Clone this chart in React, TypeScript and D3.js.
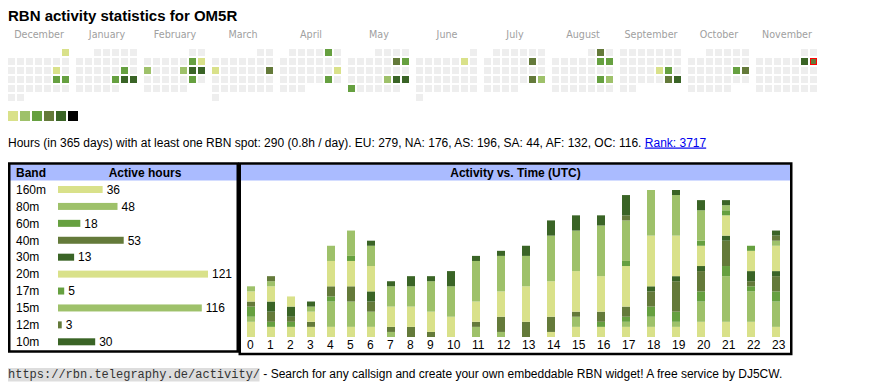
import React from "react";
import * as d3 from "d3";

// ---------- DATA ----------
const title = "RBN activity statistics for OM5R";
const monthNames = ["December","January","February","March","April","May","June","July","August","September","October","November"];
const monthStarts = ["2024-12-01","2025-01-01","2025-02-01","2025-03-01","2025-04-01","2025-05-01","2025-06-01","2025-07-01","2025-08-01","2025-09-01","2025-10-01","2025-11-01"];
const activeDates = [
  "2024-12-01","2024-12-14","2024-12-21","2024-12-22",
  "2025-01-18","2025-01-24","2025-01-25","2025-01-26",
  "2025-02-08","2025-02-09","2025-02-10","2025-02-14","2025-02-15","2025-02-16","2025-02-22",
  "2025-03-10","2025-03-16",
  "2025-04-05","2025-04-20","2025-04-26",
  "2025-05-10","2025-05-11","2025-05-23","2025-05-24","2025-05-25","2025-05-26",
  "2025-06-07",
  "2025-07-12","2025-07-26","2025-07-27",
  "2025-08-02","2025-08-09","2025-08-10","2025-08-23","2025-08-24",
  "2025-09-19","2025-09-20","2025-09-27","2025-09-28",
  "2025-10-18","2025-10-19",
  "2025-11-08","2025-11-09"
];
const activeLevels = [
  1,1,3,3,
  3,3,5,5,
  3,1,2,2,5,5,3,
  1,4,
  3,1,3,
  4,3,2,5,5,3,
  1,
  4,4,2,
  4,3,3,3,2,
  1,3,4,5,
  3,4,
  5,4
];
const todayDate = "2025-11-09";
const levelColors = ["#eeeeee","#d9e18a","#9ec16a","#66a040","#647a3a","#3a6426","#000000"];

const bands = ["160m","80m","60m","40m","30m","20m","17m","15m","12m","10m"];
const bandHours = [36,48,18,53,13,121,5,116,3,30];
const bandColors = ["#d9e18a","#9ec16a","#66a040","#647a3a","#3a6426","#d9e18a","#66a040","#9ec16a","#647a3a","#3a6426"];

const hourLabels = ["0","1","2","3","4","5","6","7","8","9","10","11","12","13","14","15","16","17","18","19","20","21","22","23"];
const h160 = [3,2,2,2,2,2,2,0,0,0,0,0,0,0,1,2,2,2,2,2,3,3,3,2];
const h80  = [1,0,0,0,5,5,3,1,0,0,0,2,1,0,0,2,0,1,2,1,4,9,6,5];
const h60  = [2,1,1,0,1,0,0,0,0,0,0,0,0,0,0,0,1,1,2,2,2,2,1,2];
const h40  = [1,2,1,1,2,3,2,1,2,1,0,1,3,3,3,1,2,2,3,6,4,5,1,3];
const h30  = [0,2,2,0,0,0,2,0,0,0,0,0,0,0,0,0,0,0,1,1,1,1,2,1];
const h20  = [2,3,2,2,5,5,5,4,4,4,4,4,5,7,7,8,7,8,10,8,4,4,4,5];
const h17  = [0,0,0,0,0,1,0,0,0,0,0,0,0,0,0,0,0,1,0,0,1,1,1,0];
const h15  = [1,1,0,1,3,5,4,4,4,6,6,8,7,6,9,8,10,8,9,8,6,1,0,1];
const h12  = [0,1,0,0,0,0,0,0,0,0,0,0,0,0,0,0,0,1,0,0,0,0,0,1];
const h10  = [0,0,0,1,0,0,1,1,2,1,3,1,1,2,3,3,2,4,0,1,2,1,0,1];
const hourlyByBand = [h160,h80,h60,h40,h30,h20,h17,h15,h12,h10];

const statsText = "Hours (in 365 days) with at least one RBN spot: 290 (0.8h / day). EU: 279, NA: 176, AS: 196, SA: 44, AF: 132, OC: 116. ";
const rankText = "Rank: 3717";
const footerUrl = "https://rbn.telegraphy.de/activity/";
const footerText = " - Search for any callsign and create your own embeddable RBN widget! A free service by DJ5CW.";

// ---------- COMPONENT ----------
const SANS = "'Liberation Sans', Arial, sans-serif";

export default function App() {
  const parse = d3.timeParse("%Y-%m-%d");
  const levelByDay = new Map<string, number>();
  activeDates.forEach((d, i) => levelByDay.set(d, activeLevels[i]));
  const fmt = d3.timeFormat("%Y-%m-%d");

  // calendar scales
  const monthX = d3.scaleLinear().domain([0, 1]).range([8, 76]);
  const colX = d3.scaleLinear().domain([0, 1]).range([0, 9]);
  const rowY = d3.scaleLinear().domain([0, 1]).range([49, 58]);
  const cell = 7;

  const cells: any[] = [];
  monthStarts.forEach((ms, mi) => {
    const start = parse(ms)!;
    const end = d3.timeMonth.offset(start, 1);
    const firstCol = (start.getDay() + 6) % 7;
    d3.timeDays(start, end).forEach((day) => {
      const dn = day.getDate();
      const col = (day.getDay() + 6) % 7;
      const row = Math.floor((firstCol + dn - 1) / 7);
      const key = fmt(day);
      cells.push({
        key,
        x: monthX(mi) + colX(col),
        y: rowY(row),
        level: levelByDay.get(key) || 0,
        today: key === todayDate,
      });
    });
  });

  // band table scales
  const bandX = d3.scaleLinear().domain([0, d3.max(bandHours)!]).range([58, 208]);
  const bandY = d3.scalePoint<string>().domain(bands).range([189.5, 341.8]);

  // hour chart scales
  const colWidths = hourLabels.map((l) => (l.length > 1 ? 25 : 20));
  const lefts = colWidths.map((_, i) => 241 + d3.sum(colWidths.slice(0, i)));
  const hourX = d3.scaleOrdinal<string, number>().domain(hourLabels).range(lefts.map((l) => l + 6));
  const yScale = d3.scaleLinear().domain([0, 29]).range([337, 190]);

  const rows = hourLabels.map((h, hi) => {
    const r: any = { hour: h };
    bands.forEach((b, bi) => (r[b] = hourlyByBand[bi][hi]));
    return r;
  });
  const stacked = d3.stack<any>().keys(bands)(rows);

  return (
    <svg width={870} height={390} style={{ position: "absolute", left: 0, top: 0 }} fontFamily={SANS}>
      <rect x={0} y={0} width={870} height={390} fill="#fff" />
      <text x={8} y={20.5} fontSize={15} fontWeight="bold" fill="#000">{title}</text>

      {/* month labels */}
      {monthNames.map((m, i) => (
        <text key={m} x={monthX(i) + 31} y={38.3} fontSize={9.6} fill="#a0a0a0" textAnchor="middle" fontFamily="'DejaVu Sans', Verdana, sans-serif">{m}</text>
      ))}

      {/* calendar cells */}
      {cells.map((c) => (
        <g key={c.key}>
          <rect x={c.x} y={c.y} width={cell} height={cell} fill={levelColors[c.level]} />
          {c.today && <rect x={c.x + 0.5} y={c.y + 0.5} width={cell - 1} height={cell - 1} fill="none" stroke="#ff0000" strokeWidth={1} />}
        </g>
      ))}

      {/* legend */}
      {levelColors.slice(1).map((c, i) => (
        <rect key={c + i} x={8 + i * 12} y={111} width={10} height={10} fill={c} />
      ))}

      {/* stats line */}
      <text x={8} y={146.5} fontSize={12} fill="#000">
        {statsText}
        <tspan fill="#0000ee" style={{ textDecoration: "underline" }}>{rankText}</tspan>
      </text>

      {/* left box: band table */}
      <rect x={10} y={164.5} width={227} height={16} fill="#aabbff" />
      <rect x={9.25} y={163.5} width={228.5} height={188} fill="none" stroke="#000" strokeWidth={2.5} />
      <text x={16} y={177} fontSize={12} fontWeight="bold">Band</text>
      <text x={145} y={177} fontSize={12} fontWeight="bold" textAnchor="middle">Active hours</text>
      {bands.map((b, i) => (
        <g key={b}>
          <text x={16} y={bandY(b)! + 4.3} fontSize={12} fill="#000">{b}</text>
          <rect x={bandX(0)} y={bandY(b)! - 3.5} width={bandX(bandHours[i]) - bandX(0)} height={7} fill={bandColors[i]} />
          <text x={bandX(bandHours[i]) + 4} y={bandY(b)! + 4.3} fontSize={12} fill="#000">{bandHours[i]}</text>
        </g>
      ))}

      {/* right box: activity vs time */}
      <rect x={240} y={164.5} width={551} height={16} fill="#aabbff" />
      <rect x={239.75} y={163.5} width={551.5} height={190.5} fill="none" stroke="#000" strokeWidth={2.5} />
      <text x={515.5} y={177} fontSize={12} fontWeight="bold" textAnchor="middle">Activity vs. Time (UTC)</text>
      {stacked.map((series, si) => (
        <g key={bands[si]} fill={bandColors[si]}>
          {series.map((d, hi) =>
            d[1] - d[0] > 0 ? (
              <rect key={hi} x={hourX(hourLabels[hi])} y={yScale(d[1])} width={8} height={yScale(d[0]) - yScale(d[1])} />
            ) : null
          )}
        </g>
      ))}
      {hourLabels.map((h) => (
        <text key={h} x={hourX(h)} y={349.3} fontSize={12} fill="#000">{h}</text>
      ))}

      {/* footer */}
      <rect x={8} y={368} width={251.5} height={13.5} fill="#dddddd" />
      <text x={8} y={377.5} fontSize={12} fontFamily="'Liberation Mono', 'Courier New', monospace" fill="#333">{footerUrl}</text>
      <text x={8 + 252} y={377.5} fontSize={12} fill="#000" xmlSpace="preserve">{footerText}</text>
    </svg>
  );
}
